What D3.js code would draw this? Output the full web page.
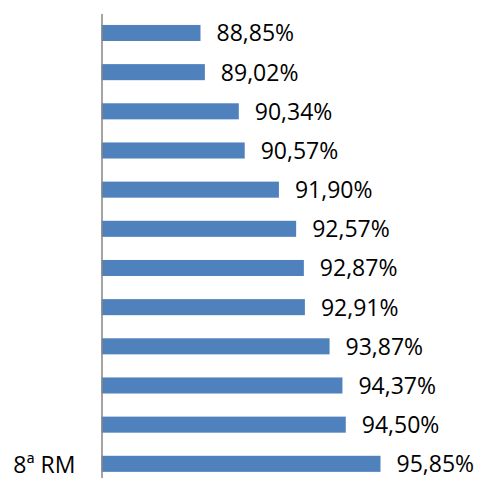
<!DOCTYPE html>
<html>
<head>
<meta charset="utf-8">
<script src="https://cdn.jsdelivr.net/npm/d3@7"></script>
<style>
  html, body { margin: 0; padding: 0; background: #fff; }
  svg { display: block; }
</style>
</head>
<body>
<svg id="chart" width="479" height="478"></svg>
<script>
// Category names (only the last one carries a visible label)
const categories = ["", "", "", "", "", "", "", "", "", "", "", "8ª RM"];
// Percentages, top to bottom
const values = [88.85, 89.02, 90.34, 90.57, 91.90, 92.57, 92.87, 92.91, 93.87, 94.37, 94.50, 95.85];

const svg = d3.select("#chart");
const font = "'Open Sans', 'Liberation Sans', sans-serif";

const x = d3.scaleLinear().domain([85, 100]).range([101.5, 487.2]);
const y = d3.scaleBand()
  .domain(d3.range(values.length))
  .range([13.4, 483.4])
  .paddingInner(0.59)
  .paddingOuter(0.295);

const fmt = v => v.toFixed(2).replace(".", ",") + "%";

// Bars
svg.append("g")
  .selectAll("rect")
  .data(values)
  .join("rect")
  .attr("x", x(85))
  .attr("y", (d, i) => y(i))
  .attr("width", d => x(d) - x(85))
  .attr("height", y.bandwidth())
  .attr("fill", "#4F81BD");

// Value labels
svg.append("g")
  .selectAll("text")
  .data(values)
  .join("text")
  .attr("x", d => x(d) + 16)
  .attr("y", (d, i) => y(i) + y.bandwidth() / 2 + 8.5)
  .attr("font-family", font)
  .attr("font-size", 23)
  .attr("fill", "#000")
  .text(fmt);

// Category axis
const axis = svg.append("g")
  .attr("transform", `translate(${x(85)},0)`)
  .call(d3.axisLeft(y).tickSize(0).tickSizeOuter(0).tickPadding(26).tickFormat(i => categories[i]));
axis.select(".domain").attr("stroke", "#868686").attr("stroke-width", 1.5);
axis.selectAll("text")
  .attr("font-family", font)
  .attr("font-size", 23)
  .attr("fill", "#000")
  .attr("dy", null)
  .attr("dominant-baseline", "central");
</script>
</body>
</html>
